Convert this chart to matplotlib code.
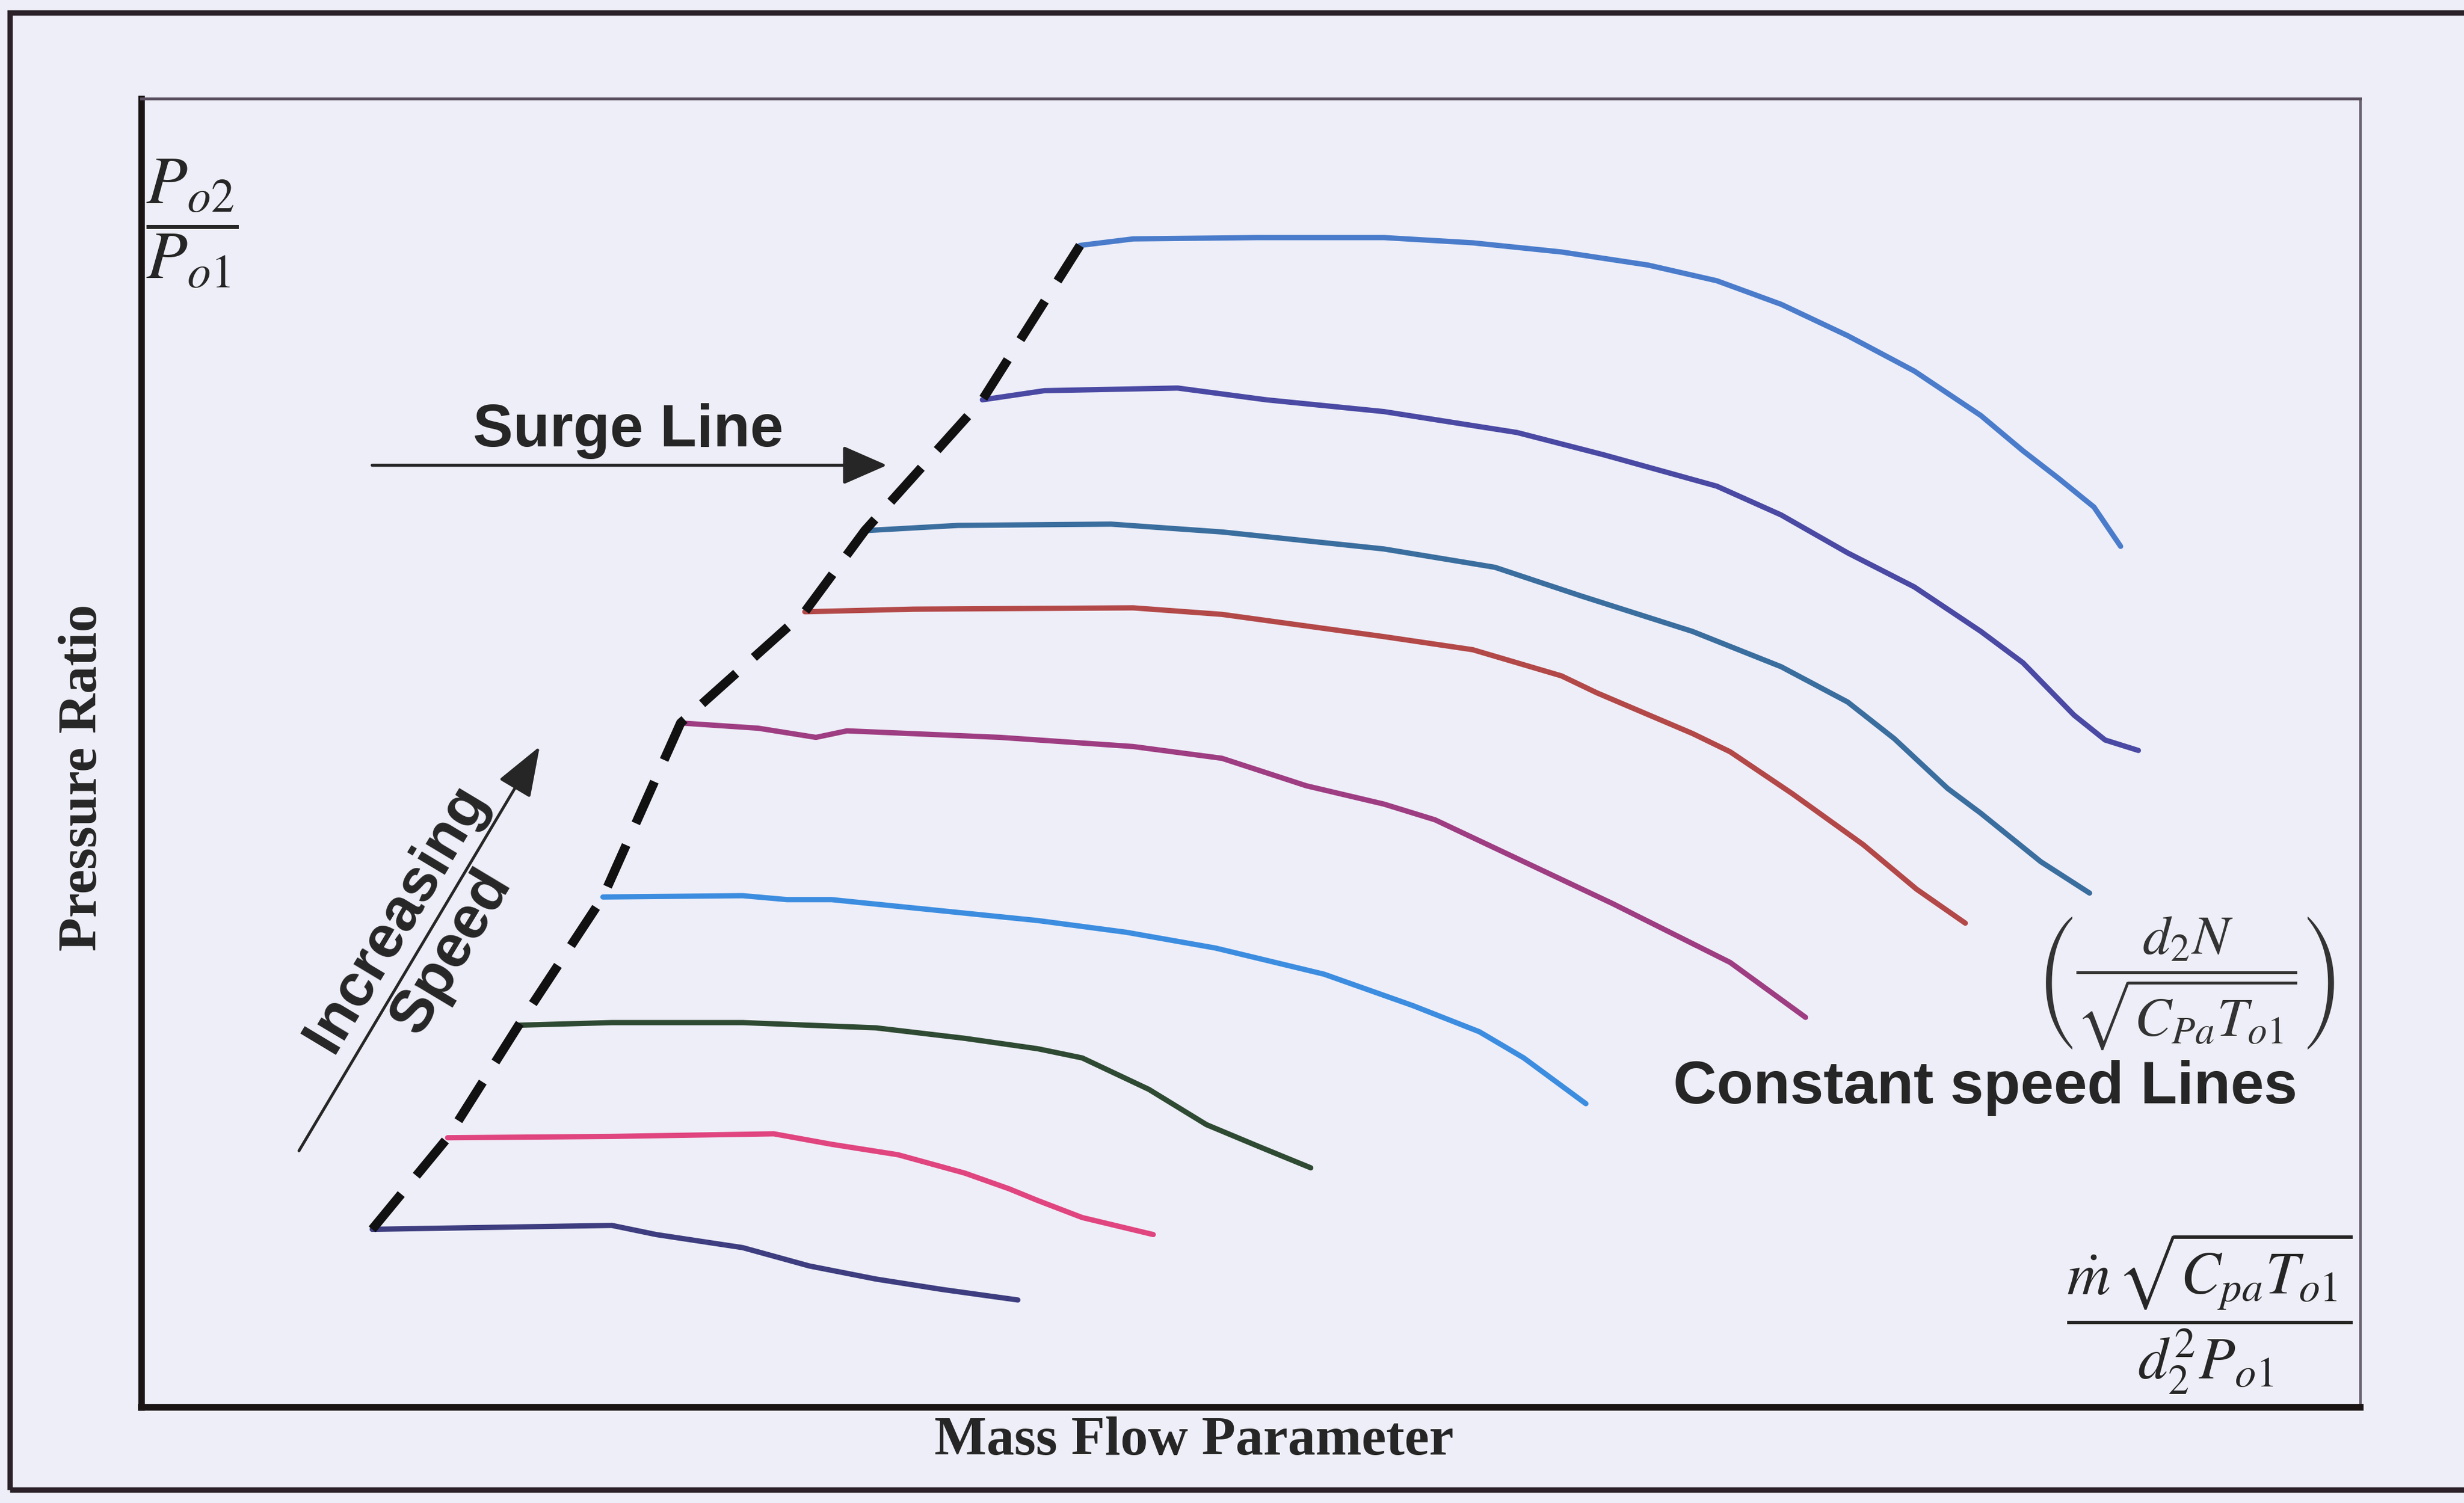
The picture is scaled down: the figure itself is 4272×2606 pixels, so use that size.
import numpy as np
import matplotlib.pyplot as plt
from matplotlib.patches import Rectangle

plt.rcParams['mathtext.fontset'] = 'stix'

# constant speed lines, lowest speed first: mass flow parameter vs pressure ratio (arbitrary units)
flow_1 = [10.4, 21.2, 23.2, 27.1, 30.1, 33.1, 36.1, 39.5]
pr_1 = [13.6, 13.9, 13.2, 12.2, 10.8, 9.8, 9.0, 8.2]

flow_2 = [13.8, 21.2, 28.5, 31.1, 34.1, 37.1, 39.1, 40.4, 42.4, 45.6]
pr_2 = [20.6, 20.7, 20.9, 20.1, 19.3, 17.9, 16.7, 15.8, 14.5, 13.2]

flow_3 = [17.0, 21.2, 27.1, 33.1, 37.1, 40.4, 42.4, 45.4, 48.0, 50.4, 52.7]
pr_3 = [29.2, 29.4, 29.4, 29.0, 28.2, 27.4, 26.7, 24.3, 21.6, 19.9, 18.3]

flow_4 = [20.8, 27.1, 29.1, 31.1, 40.4, 44.4, 48.4, 53.3, 57.3, 60.3, 62.3, 65.1]
pr_4 = [39.0, 39.1, 38.8, 38.8, 37.2, 36.3, 35.1, 33.1, 30.7, 28.7, 26.7, 23.2]

flow_5 = [24.3, 27.8, 30.4, 31.8, 38.7, 44.7, 48.7, 52.5, 56.0, 58.3, 61.3, 66.3, 71.6, 75.0]
pr_5 = [52.3, 51.9, 51.2, 51.7, 51.2, 50.5, 49.6, 47.5, 46.1, 44.9, 42.5, 38.5, 34.0, 29.8]

flow_6 = [29.9, 34.8, 44.7, 48.7, 56.0, 60.0, 64.0, 65.6, 69.9, 71.6, 74.4, 77.6, 80.0, 82.2]
pr_6 = [60.8, 61.0, 61.1, 60.6, 58.9, 57.9, 55.9, 54.6, 51.5, 50.1, 46.9, 43.0, 39.6, 37.0]

flow_7 = [32.6, 36.8, 43.7, 48.7, 56.0, 61.0, 64.9, 69.9, 73.9, 76.9, 79.0, 81.4, 82.9, 85.6, 87.8]
pr_7 = [67.0, 67.4, 67.5, 66.9, 65.6, 64.2, 62.0, 59.3, 56.6, 53.9, 51.1, 47.3, 45.4, 41.7, 39.3]

flow_8 = [37.9, 40.7, 46.7, 50.7, 56.0, 62.0, 65.9, 71.0, 73.9, 76.9, 79.9, 82.9, 84.8, 87.1, 88.5, 90.0]
pr_8 = [77.0, 77.7, 77.9, 77.0, 76.1, 74.5, 72.8, 70.4, 68.2, 65.3, 62.7, 59.3, 56.9, 52.9, 51.0, 50.2]

flow_9 = [42.3, 44.7, 50.3, 56.0, 60.0, 64.0, 67.9, 71.0, 73.9, 76.9, 79.9, 82.9, 84.8, 86.4, 88.0, 89.2]
pr_9 = [88.8, 89.3, 89.4, 89.4, 89.0, 88.3, 87.3, 86.1, 84.3, 81.9, 79.2, 75.8, 73.1, 71.0, 68.8, 65.8]

speed_colors = ['#3d3d80', '#e0457f', '#2f4a33', '#3c8de0', '#9e3d82',
                '#b34848', '#3a6e9e', '#4a49a3', '#4a7ccb']

bg = '#eeeef8'
ink = '#262626'

fig = plt.figure(figsize=(14.24, 8.68667), dpi=300, facecolor=bg)
ax = fig.add_axes([0.0574, 0.0637, 0.9005, 0.8705])
ax.set_facecolor(bg)

flows = [flow_1, flow_2, flow_3, flow_4, flow_5, flow_6, flow_7, flow_8, flow_9]
prs = [pr_1, pr_2, pr_3, pr_4, pr_5, pr_6, pr_7, pr_8, pr_9]

for f, p, c in zip(flows, prs, speed_colors):
    ax.plot(f, p, color=c, lw=2.2, solid_capstyle='round', solid_joinstyle='round')

# surge line joins the left end of every speed line
surge_x = [f[0] for f in flows]
surge_y = [p[0] for p in prs]
ax.plot(surge_x, surge_y, color='#111111', lw=3.8, dashes=(5, 2.6))

ax.set_xlim(0, 100)
ax.set_ylim(0, 100)
ax.set_xticks([])
ax.set_yticks([])
ax.spines['left'].set_linewidth(2.7)
ax.spines['bottom'].set_linewidth(2.8)
ax.spines['left'].set_color('#1a1414')
ax.spines['bottom'].set_color('#1a1414')
ax.spines['top'].set_linewidth(1.2)
ax.spines['top'].set_color('#5a5060')
ax.spines['right'].set_linewidth(1.1)
ax.spines['right'].set_color('#6a6070')

# annotations
ax.annotate('', xy=(33.6, 72.0), xytext=(10.4, 72.0),
            arrowprops=dict(arrowstyle='-|>,head_length=0.8,head_width=0.35',
                            mutation_scale=20, lw=1.3, color=ink,
                            shrinkA=0, shrinkB=0))
ax.text(21.95, 74.6, 'Surge Line', ha='center', va='center', fontsize=25,
        fontweight='bold', family='Liberation Sans', color=ink)

ax.annotate('', xy=(17.95, 50.5), xytext=(7.1, 19.6),
            arrowprops=dict(arrowstyle='-|>,head_length=0.9,head_width=0.33',
                            mutation_scale=20, lw=1.2, color=ink,
                            shrinkA=0, shrinkB=0))
ax.text(12.75, 36.1, 'Increasing\nSpeed', rotation=59, rotation_mode='anchor',
        ha='center', va='center', multialignment='center', fontsize=25,
        fontweight='bold', family='Liberation Sans', color=ink, linespacing=1.2)

ax.text(83.1, 24.4, 'Constant speed Lines', ha='center', va='center', fontsize=25,
        fontweight='bold', family='Liberation Sans', color=ink)

ax.text(92.1, 32.4, r'$\left(\dfrac{d_2N}{\sqrt{C_{Pa}T_{o1}}}\right)$',
        ha='center', va='center', fontsize=23, color='#333333')

ax.text(93.2, 7.2, r'$\dfrac{\dot{m}\,\sqrt{C_{pa}T_{o1}}}{d_2^2P_{o1}}$',
        ha='center', va='center', fontsize=25, color=ink)

ax.text(0.2, 90.5, r'$\dfrac{P_{o2}}{P_{o1}}$', ha='left', va='center',
        fontsize=28, color=ink)

fig.text(0.0338, 0.4828, 'Pressure Ratio', rotation=90, ha='center', va='center',
         fontsize=23, fontweight='bold', family='Liberation Serif', color=ink)
fig.text(0.4847, 0.0575, 'Mass Flow Parameter', ha='center', va='top',
         fontsize=23, fontweight='bold', family='Liberation Serif', color=ink)

# outer frame (right side runs off the page)
fig.add_artist(Rectangle((0.004, 0.0088), 1.2, 0.9828, transform=fig.transFigure,
                         fill=False, lw=2.2, edgecolor='#2a2228'))

fig.savefig('out.png', dpi=300, facecolor=bg)
